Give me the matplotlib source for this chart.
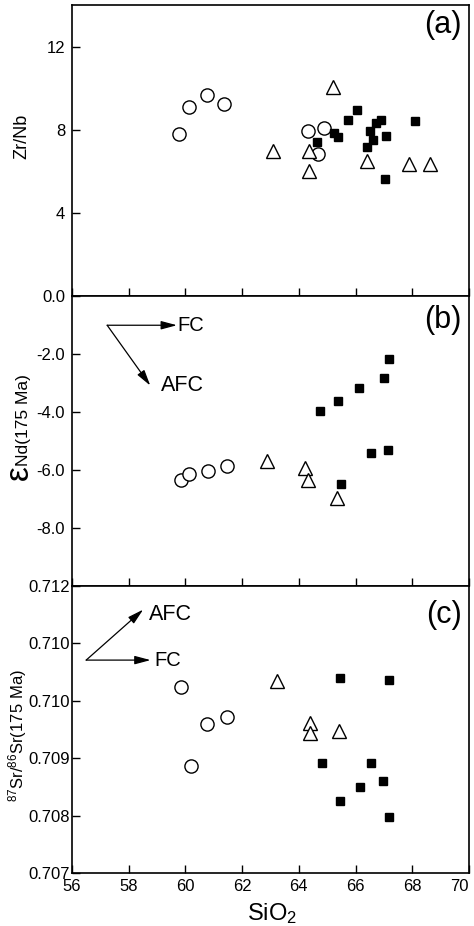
import numpy as np
import matplotlib.pyplot as plt

plt.rcParams['font.family'] = ['Liberation Sans', 'DejaVu Sans']
plt.rcParams['mathtext.fontset'] = 'custom'
plt.rcParams['mathtext.rm'] = 'Liberation Sans'

# (a) Zr/Nb vs SiO2
a_circ_x = [59.79, 60.13, 60.75, 61.36, 64.33, 64.87, 64.67]
a_circ_y = [7.81, 9.11, 9.65, 9.24, 7.94, 8.10, 6.81]
a_tri_x = [65.19, 63.09, 64.34, 64.34, 66.39, 67.88, 68.62]
a_tri_y = [10.07, 6.98, 6.98, 6.03, 6.51, 6.35, 6.35]
a_sq_x = [64.63, 65.25, 65.39, 65.72, 66.05, 66.51, 66.40, 66.63, 66.71, 66.89, 67.06, 67.03, 68.08]
a_sq_y = [7.41, 7.84, 7.65, 8.48, 8.95, 7.94, 7.17, 7.49, 8.32, 8.45, 7.68, 5.62, 8.40]

# (b) eNd(175 Ma) vs SiO2
b_circ_x = [59.84, 60.11, 60.78, 61.47]
b_circ_y = [-6.36, -6.14, -6.03, -5.88]
b_tri_x = [62.89, 64.21, 64.31, 65.36]
b_tri_y = [-5.68, -5.94, -6.36, -6.95]
b_sq_x = [64.76, 65.38, 66.12, 66.99, 67.17, 66.53, 67.14, 65.50]
b_sq_y = [-3.97, -3.61, -3.19, -2.82, -2.19, -5.42, -5.31, -6.49]

# (c) 87Sr/86Sr(175 Ma) vs SiO2
c_circ_x = [59.83, 60.18, 60.75, 61.46]
c_circ_y = [0.71025, 0.70886, 0.70960, 0.70971]
c_tri_x = [63.22, 64.38, 64.40, 65.40]
c_tri_y = [0.71034, 0.70962, 0.70944, 0.70948]
c_sq_x = [65.44, 67.19, 64.81, 66.56, 66.97, 66.15, 65.44, 67.19]
c_sq_y = [0.71040, 0.71036, 0.70892, 0.70891, 0.70860, 0.70850, 0.70826, 0.70798]

x_ticks = [56, 58, 60, 62, 64, 66, 68, 70]
a_ticks = [4, 8, 12]
b_ticks = [-8, -6, -4, -2, 0]
b_labels = ['-8.0', '-6.0', '-4.0', '-2.0', '0.0']
c_ticks = [0.707, 0.708, 0.709, 0.710, 0.711, 0.712]
c_labels = ['0.707', '0.708', '0.709', '0.710', '0.710', '0.712']

fig = plt.figure(figsize=(4.74, 9.26), dpi=100)
left, width = 0.1519, 0.8376
ax_a = fig.add_axes([left, 0.6803, width, 0.3143])
ax_b = fig.add_axes([left, 0.3672, width, 0.3132], sharex=ax_a)
ax_c = fig.add_axes([left, 0.0572, width, 0.3099], sharex=ax_a)

def draw(ax, cx, cy, tx, ty, sx, sy):
    ax.plot(cx, cy, 'o', ms=9.5, mfc='white', mec='black', mew=1.0, ls='none')
    ax.plot(tx, ty, '^', ms=10, mfc='white', mec='black', mew=1.0, ls='none')
    ax.plot(sx, sy, 's', ms=6, mfc='black', mec='black', ls='none')
    for s in ax.spines.values():
        s.set_linewidth(1.2)
    ax.tick_params(direction='in', length=6, width=1, labelsize=12, pad=5)

draw(ax_a, a_circ_x, a_circ_y, a_tri_x, a_tri_y, a_sq_x, a_sq_y)
draw(ax_b, b_circ_x, b_circ_y, b_tri_x, b_tri_y, b_sq_x, b_sq_y)
draw(ax_c, c_circ_x, c_circ_y, c_tri_x, c_tri_y, c_sq_x, c_sq_y)

ax_a.set_xlim(56, 70)
ax_a.set_xticks(x_ticks)
ax_a.set_ylim(0, 14)
ax_a.set_yticks(a_ticks)
ax_b.set_ylim(-10, 0)
ax_b.set_yticks(b_ticks)
ax_b.set_yticklabels(b_labels)
ax_c.set_ylim(0.707, 0.712)
ax_c.set_yticks(c_ticks)
ax_c.set_yticklabels(c_labels)
ax_c.tick_params(axis='y', labelsize=12, pad=1.5)
ax_c.tick_params(axis='x', labelsize=12, pad=4)
ax_a.tick_params(labelbottom=False)
ax_b.tick_params(labelbottom=False)
ax_c.get_xticklabels()[-1].set_ha('right')

# y labels
ax_a.set_ylabel('Zr/Nb', fontsize=13)
ax_a.yaxis.label.set_va('baseline')
ax_a.yaxis.set_label_coords(-0.1156, 0.55)

ax_b.text(-0.1106, 0.3655, '\u03b5', fontsize=24, rotation=90, rotation_mode='anchor',
          ha='left', va='baseline', transform=ax_b.transAxes)
ax_b.text(-0.1106, 0.414, 'Nd(175 Ma)', fontsize=12.5, rotation=90, rotation_mode='anchor',
          ha='left', va='baseline', transform=ax_b.transAxes)

ax_c.set_ylabel(r'$\mathregular{^{87}Sr/^{86}Sr(175\ Ma)}$', fontsize=12)
ax_c.yaxis.label.set_va('baseline')
ax_c.yaxis.set_label_coords(-0.122, 0.48)

ax_c.set_xlabel(r'SiO$\mathregular{_2}$', fontsize=17)
ax_c.xaxis.label.set_va('baseline')
ax_c.xaxis.set_label_coords(0.5025, -0.164)

# panel letters
ax_a.text(0.982, 0.931, '(a)', fontsize=22, ha='right', va='center', transform=ax_a.transAxes)
ax_b.text(0.982, 0.917, '(b)', fontsize=22, ha='right', va='center', transform=ax_b.transAxes)
ax_c.text(0.982, 0.899, '(c)', fontsize=22, ha='right', va='center', transform=ax_c.transAxes)

# FC / AFC vectors
arr = dict(arrowstyle='-|>,head_length=0.6,head_width=0.16', mutation_scale=16,
           lw=0.9, color='black', shrinkA=0, shrinkB=0)
ax_b.annotate('', xy=(59.70, -1.01), xytext=(57.24, -1.01), arrowprops=arr)
ax_b.annotate('', xy=(58.76, -3.09), xytext=(57.24, -1.01), arrowprops=arr)
ax_b.text(59.70, -1.01, 'FC', fontsize=14.5, ha='left', va='center')
ax_b.text(59.14, -3.09, 'AFC', fontsize=15.5, ha='left', va='center')

ax_c.annotate('', xy=(58.77, 0.71071), xytext=(56.50, 0.71071), arrowprops=arr)
ax_c.annotate('', xy=(58.51, 0.71159), xytext=(56.50, 0.71071), arrowprops=arr)
ax_c.text(58.89, 0.71071, 'FC', fontsize=14.5, ha='left', va='center')
ax_c.text(58.71, 0.71151, 'AFC', fontsize=15.5, ha='left', va='center')

plt.savefig('out.png', dpi=100)
